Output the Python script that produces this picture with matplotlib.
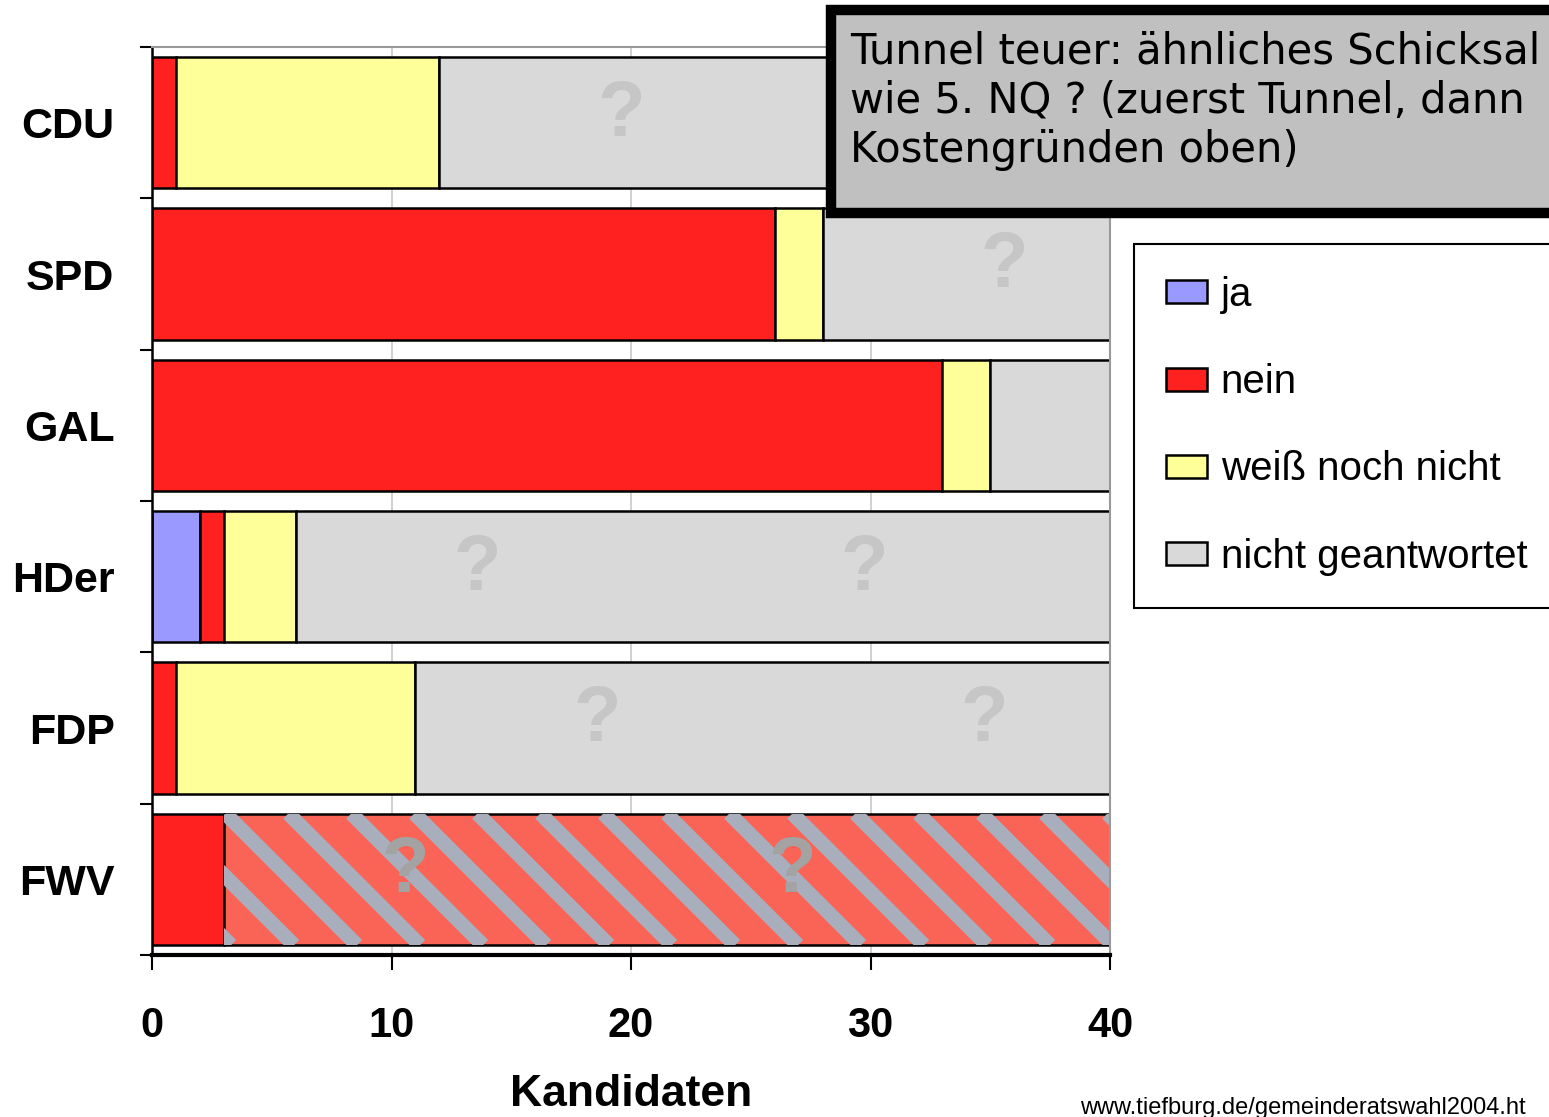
import matplotlib
matplotlib.use("Agg")
import matplotlib.pyplot as plt
from matplotlib.patches import Rectangle

plt.rcParams['font.family'] = ['Liberation Sans', 'DejaVu Sans']

# survey answers per party (number of candidates)
parties = ["CDU", "SPD", "GAL", "HDer", "FDP", "FWV"]
ja = [0, 0, 0, 2, 0, 0]
nein = [1, 26, 33, 1, 1, 3]
weiss = [11, 2, 2, 3, 10, 0]
nicht = [28, 12, 5, 34, 29, 37]
labels = ["ja", "nein", "weiß noch nicht", "nicht geantwortet"]
xticks = [0, 10, 20, 30, 40]

W, H = 1549, 1117
fig = plt.figure(figsize=(W / 100, H / 100), dpi=100)
ax = fig.add_axes([152 / W, 1 - 955 / H, 958 / W, 908 / H])

ypos = [len(parties) - 1 - i for i in range(len(parties))]
bh = 0.87
ec = dict(edgecolor="black", linewidth=1.8)

left = [0] * len(parties)
b_ja = ax.barh(ypos, ja, left=left, height=bh, color="#9999ff", label=labels[0], **ec)
left = [l + v for l, v in zip(left, ja)]
b_nein = ax.barh(ypos, nein, left=left, height=bh, color="#ff2020", label=labels[1], **ec)
left = [l + v for l, v in zip(left, nein)]
b_weiss = ax.barh(ypos, weiss, left=left, height=bh, color="#ffff99", label=labels[2], **ec)
left = [l + v for l, v in zip(left, weiss)]
b_nicht = ax.barh(ypos, nicht, left=left, height=bh, color="#d9d9d9", label=labels[3], **ec)

# FWV: "nicht geantwortet" shown hatched red/grey
fwv = b_nicht.patches[parties.index("FWV")]
fwv.set_facecolor("#f96457")
x0, x1 = fwv.get_x(), fwv.get_x() + fwv.get_width()
yb, yt = fwv.get_y(), fwv.get_y() + fwv.get_height()
px_x = 958 / 40.0
px_y = 908 / 6.0
run = (yt - yb) * px_y / px_x   # 45 degree stripes
period = 63 / px_x
s = x0 - run + 0.3
while s < x1:
    ln, = ax.plot([s, s + run], [yt, yb], color="#a9aebc", lw=10.5,
                  solid_capstyle="butt", zorder=2.5)
    ln.set_clip_path(fwv)
    s += period

# faint question marks in the "nicht geantwortet" segments
tile = 387 / px_x
for i, p in enumerate(b_nicht.patches):
    st, en = p.get_x(), p.get_x() + p.get_width()
    qc = "#a3a3a3" if parties[i] == "FWV" else "#c6c6c6"
    q = st + tile / 2 - 0.5
    while q + 0.8 < en:
        if not (i == 0 and q > 27):   # hidden under the title box
            ax.text(q, ypos[i] + 0.05, "?", fontsize=56, fontweight="bold",
                    color=qc, ha="center", va="center", zorder=3)
        q += tile

ax.set_xlim(0, 40)
ax.set_ylim(-0.5, len(parties) - 0.5)

ax.set_xticks(xticks)
ax.set_xticklabels([str(t) for t in xticks], fontsize=30, fontweight="bold")
ax.tick_params(axis="x", length=11, width=1.5, pad=26, direction="out")
ax.set_yticks([v - 0.5 for v in range(len(parties) + 1)])
ax.set_yticklabels([])
ax.tick_params(axis="y", length=9, width=1.5, direction="out")
ax.set_yticks(ypos, minor=True)
ax.set_yticklabels(parties, minor=True, fontsize=31, fontweight="bold")
ax.tick_params(axis="y", which="minor", length=0, pad=27)

ax.set_xlabel("Kandidaten", fontsize=32, fontweight="bold", labelpad=20)

ax.xaxis.grid(True, color="#c8c8c8", lw=1.2)
ax.set_axisbelow(True)
ax.spines["bottom"].set_linewidth(3)
ax.spines["left"].set_linewidth(1.8)
ax.spines["top"].set_color("#999999")
ax.spines["right"].set_color("#999999")
ax.spines["top"].set_linewidth(1.5)
ax.spines["right"].set_linewidth(1.5)

leg = ax.legend(handles=[b_ja, b_nein, b_weiss, b_nicht], labels=labels,
                loc="upper left", bbox_to_anchor=(1134 / W, 1 - 244 / H),
                bbox_transform=fig.transFigure, borderaxespad=0,
                fontsize=29, frameon=True, fancybox=False, framealpha=1,
                borderpad=0.8, labelspacing=1.22, handlelength=1.0,
                handleheight=0.5, handletextpad=0.35)
leg.get_frame().set_edgecolor("black")
leg.get_frame().set_linewidth(1.5)
leg.legend_handles[3].set_facecolor("#d9d9d9")

# title box, top right
box = Rectangle((831 / W, 1 - 213 / H), 740 / W, 203 / H, transform=fig.transFigure,
                facecolor="#c0c0c0", edgecolor="black", linewidth=7.5, zorder=5)
fig.add_artist(box)
fig.text(850 / W, 1 - 30 / H,
         "Tunnel teuer: ähnliches Schicksal\nwie 5. NQ ? (zuerst Tunnel, dann\nKostengründen oben)",
         fontsize=30, family="DejaVu Sans", va="top", ha="left", linespacing=1.22, zorder=6)

fig.text(1080 / W, 1 - 1114 / H, "www.tiefburg.de/gemeinderatswahl2004.ht",
         fontsize=17, va="baseline", ha="left")

fig.savefig("out.png", dpi=100)
